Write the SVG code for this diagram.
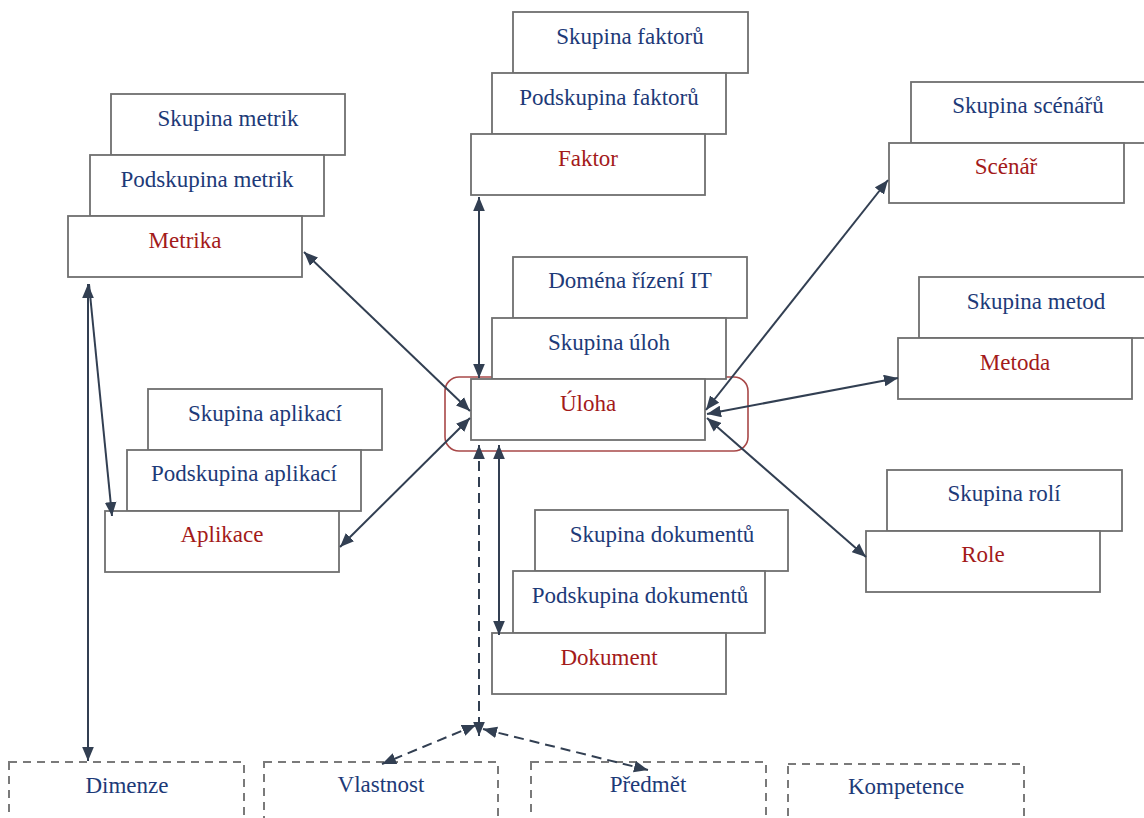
<svg xmlns="http://www.w3.org/2000/svg" width="1144" height="818" viewBox="0 0 1144 818">
<style>
.box{fill:#fff;stroke:#6f6f6f;stroke-width:1.8}
.dbox{fill:none;stroke:#7a7a7a;stroke-width:2;stroke-dasharray:8 6}
.t{font-family:"Liberation Serif","Times New Roman",serif;font-size:23px;text-anchor:middle}
.b{fill:#1d3a78}
.r{fill:#a31a1a}
.c{fill:none;stroke:#323f52;stroke-width:2}
.d{fill:none;stroke:#323f52;stroke-width:2;stroke-dasharray:10 6}
</style>
<defs>
<marker id="ah" markerUnits="userSpaceOnUse" markerWidth="14" markerHeight="12" refX="12" refY="5" orient="auto-start-reverse" viewBox="0 0 12 10">
<path d="M0,0 L12,5 L0,10 z" fill="#323f52"/>
</marker>
</defs>
<rect width="1144" height="818" fill="#fff"/>

<g id="highlight-uloha">
<rect x="445" y="377" width="303" height="74" rx="14" fill="none" stroke="#a84848" stroke-width="1.6"/>
</g>

<g id="metrika-stack">
<g id="skupina-metrik"><rect class="box" x="111" y="94" width="234" height="61"/><text class="t b" x="228" y="126">Skupina metrik</text></g>
<g id="podskupina-metrik"><rect class="box" x="90" y="155" width="234" height="61"/><text class="t b" x="207" y="187">Podskupina metrik</text></g>
<g id="metrika"><rect class="box" x="68" y="216" width="234" height="61"/><text class="t r" x="185" y="248">Metrika</text></g>
</g>

<g id="faktor-stack">
<g id="skupina-faktoru"><rect class="box" x="513" y="12" width="235" height="61"/><text class="t b" x="630" y="44">Skupina faktorů</text></g>
<g id="podskupina-faktoru"><rect class="box" x="492" y="73" width="234" height="61"/><text class="t b" x="609" y="105">Podskupina faktorů</text></g>
<g id="faktor"><rect class="box" x="471" y="134" width="234" height="61"/><text class="t r" x="588" y="166">Faktor</text></g>
</g>

<g id="scenar-stack">
<g id="skupina-scenaru"><rect class="box" x="911" y="82" width="236" height="61"/><text class="t b" x="1028" y="113">Skupina scénářů</text></g>
<g id="scenar"><rect class="box" x="889" y="143" width="235" height="60"/><text class="t r" x="1006" y="174">Scénář</text></g>
</g>

<g id="uloha-stack">
<g id="domena-rizeni-it"><rect class="box" x="513" y="257" width="234" height="61"/><text class="t b" x="630" y="288">Doména řízení IT</text></g>
<g id="skupina-uloh"><rect class="box" x="492" y="318" width="234" height="61"/><text class="t b" x="609" y="350">Skupina úloh</text></g>
<g id="uloha"><rect class="box" x="471" y="379" width="234" height="61"/><text class="t r" x="588" y="411">Úloha</text></g>
</g>

<g id="metoda-stack">
<g id="skupina-metod"><rect class="box" x="919" y="277" width="234" height="61"/><text class="t b" x="1036" y="309">Skupina metod</text></g>
<g id="metoda"><rect class="box" x="898" y="338" width="234" height="61"/><text class="t r" x="1015" y="370">Metoda</text></g>
</g>

<g id="aplikace-stack">
<g id="skupina-aplikaci"><rect class="box" x="148" y="389" width="234" height="61"/><text class="t b" x="265" y="421">Skupina aplikací</text></g>
<g id="podskupina-aplikaci"><rect class="box" x="127" y="450" width="234" height="61"/><text class="t b" x="244" y="481">Podskupina aplikací</text></g>
<g id="aplikace"><rect class="box" x="105" y="511" width="234" height="61"/><text class="t r" x="222" y="542">Aplikace</text></g>
</g>

<g id="role-stack">
<g id="skupina-roli"><rect class="box" x="887" y="470" width="235" height="61"/><text class="t b" x="1004" y="501">Skupina rolí</text></g>
<g id="role"><rect class="box" x="866" y="531" width="234" height="61"/><text class="t r" x="983" y="562">Role</text></g>
</g>

<g id="dokument-stack">
<g id="skupina-dokumentu"><rect class="box" x="535" y="510" width="253" height="61"/><text class="t b" x="662" y="542">Skupina dokumentů</text></g>
<g id="podskupina-dokumentu"><rect class="box" x="513" y="571" width="252" height="62"/><text class="t b" x="640" y="603">Podskupina dokumentů</text></g>
<g id="dokument"><rect class="box" x="492" y="633" width="234" height="61"/><text class="t r" x="609" y="665">Dokument</text></g>
</g>

<g id="dimenze"><rect class="dbox" x="9" y="762" width="235" height="70"/><text class="t b" x="127" y="793">Dimenze</text></g>
<g id="vlastnost"><rect class="dbox" x="264" y="762" width="234" height="70"/><text class="t b" x="381" y="792">Vlastnost</text></g>
<g id="predmet"><rect class="dbox" x="531" y="762" width="235" height="70"/><text class="t b" x="648" y="792">Předmět</text></g>
<g id="kompetence"><rect class="dbox" x="788" y="764" width="236" height="70"/><text class="t b" x="906" y="794">Kompetence</text></g>

<g id="connectors">
<line class="c" x1="479" y1="197" x2="479" y2="378" marker-start="url(#ah)" marker-end="url(#ah)"/>
<line class="c" x1="304" y1="252" x2="470" y2="411" marker-start="url(#ah)" marker-end="url(#ah)"/>
<line class="c" x1="340" y1="547" x2="470" y2="418" marker-start="url(#ah)" marker-end="url(#ah)"/>
<line class="c" x1="88" y1="284" x2="88" y2="761" marker-start="url(#ah)" marker-end="url(#ah)"/>
<line class="c" x1="89" y1="284" x2="112" y2="516" marker-end="url(#ah)"/>
<line class="c" x1="706" y1="410" x2="888" y2="180" marker-start="url(#ah)" marker-end="url(#ah)"/>
<line class="c" x1="707" y1="414" x2="898" y2="378" marker-start="url(#ah)" marker-end="url(#ah)"/>
<line class="c" x1="707" y1="418" x2="866" y2="557" marker-start="url(#ah)" marker-end="url(#ah)"/>
<line class="c" x1="499" y1="445" x2="499" y2="635" marker-start="url(#ah)" marker-end="url(#ah)"/>
<line class="d" x1="479" y1="445" x2="479" y2="736" marker-start="url(#ah)" marker-end="url(#ah)"/>
<line class="d" x1="476" y1="725" x2="382" y2="764" marker-start="url(#ah)" marker-end="url(#ah)"/>
<line class="d" x1="483" y1="729" x2="648" y2="770" marker-start="url(#ah)" marker-end="url(#ah)"/>
</g>
</svg>
